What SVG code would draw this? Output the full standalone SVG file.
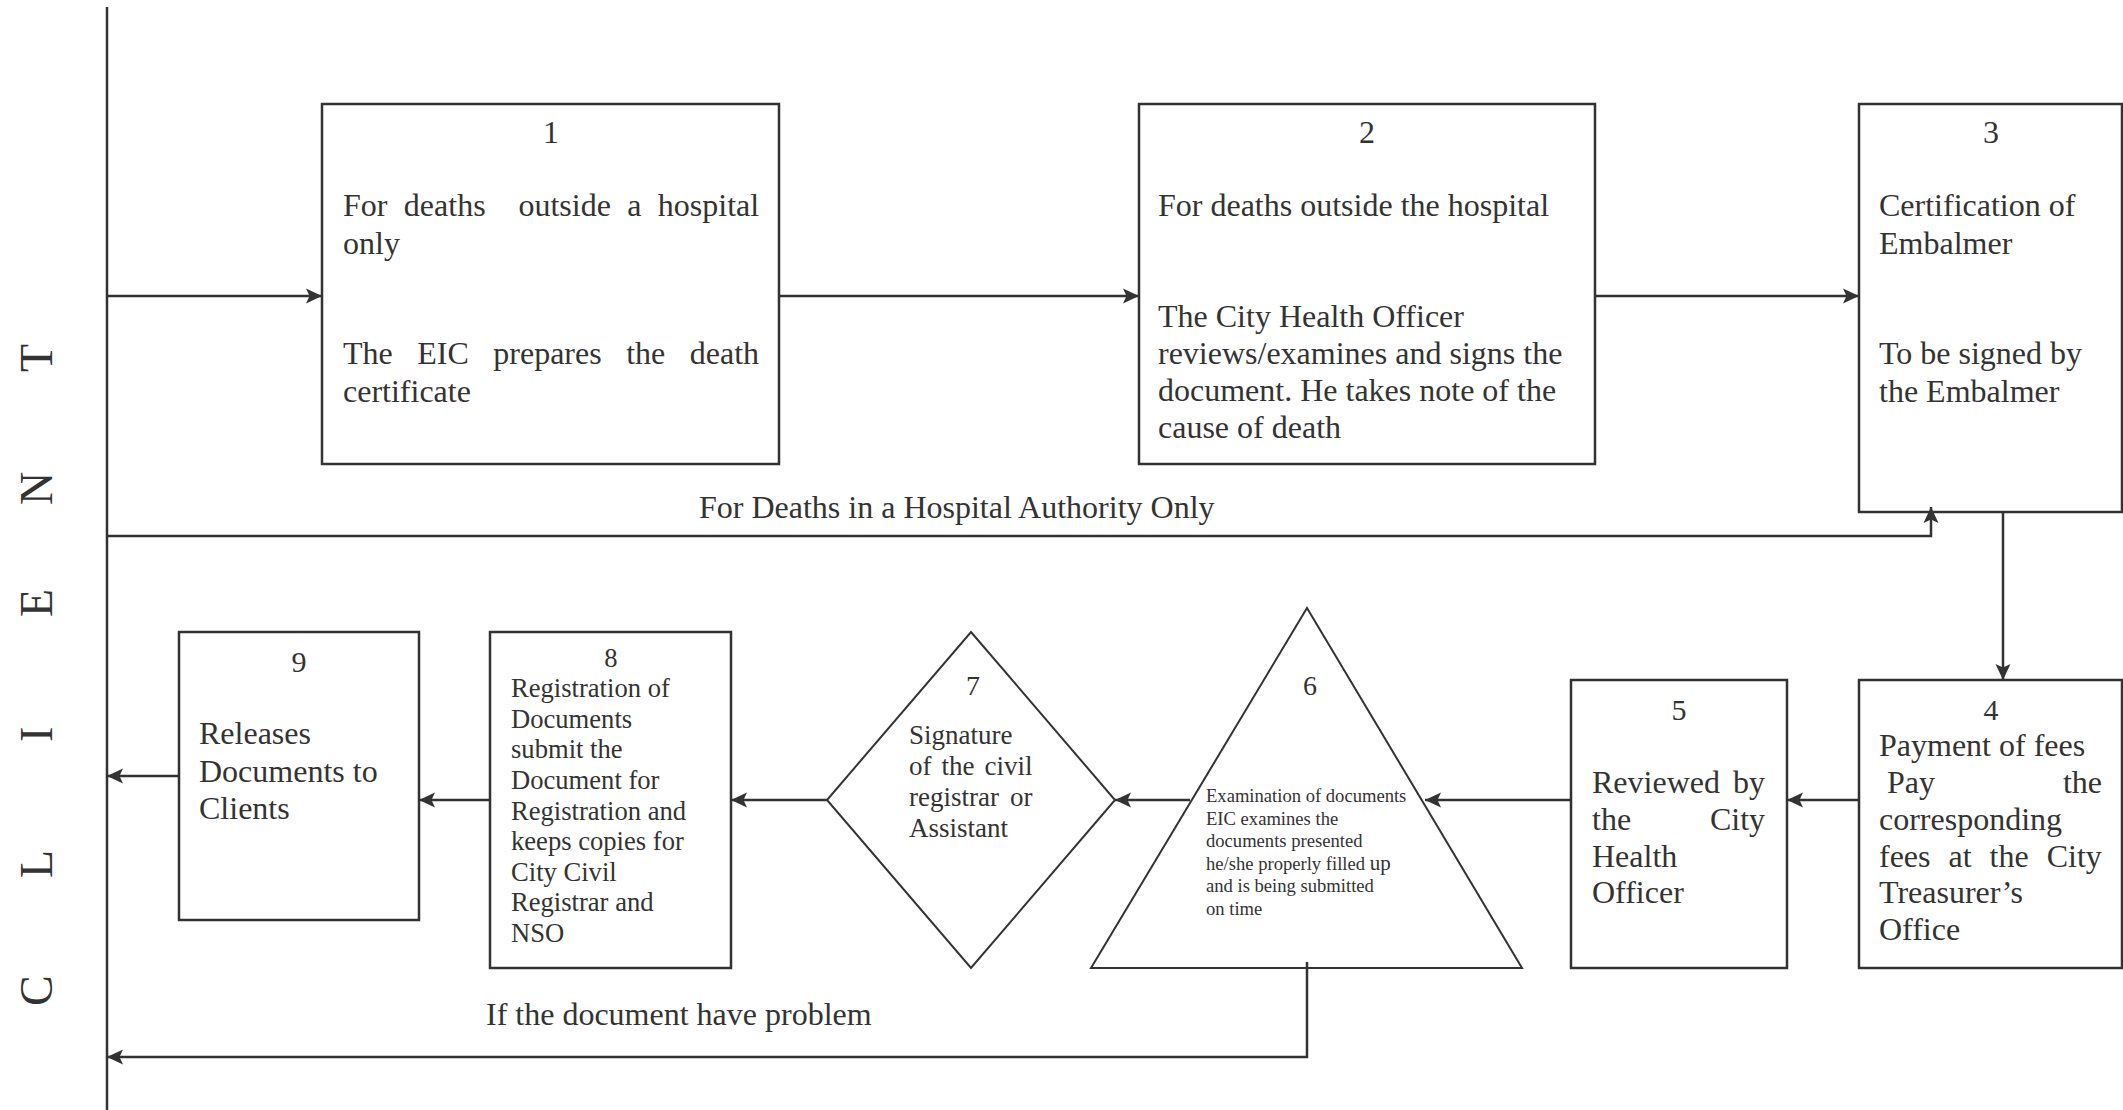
<svg xmlns="http://www.w3.org/2000/svg" width="2123" height="1110" viewBox="0 0 2123 1110">
<style>
text{font-family:"Liberation Serif","Times New Roman",serif;fill:#333}
.f32{font-size:32px}
.f30{font-size:30px}
.f28{font-size:28px}
.f27{font-size:27px}
.f26{font-size:26.6px}
.f18{font-size:18.6px}
.mid{text-anchor:middle}
.box{fill:#fff;stroke:#333;stroke-width:2.5}
.shape{fill:#fff;stroke:#333;stroke-width:2}
.con{fill:none;stroke:#333;stroke-width:2.5}
</style>
<defs>
<marker id="ah" markerUnits="userSpaceOnUse" markerWidth="16" markerHeight="16" viewBox="0 0 16 16" refX="16" refY="8" orient="auto">
<path d="M0,0.5 L16,8 L0,15.5 L3.5,8 z" fill="#333"/>
</marker>
</defs>
<rect width="2123" height="1110" fill="#fff"/>

<g id="client">
<line x1="107" y1="7" x2="107" y2="1110" stroke="#333" stroke-width="2.5"/>
<text transform="translate(52,0) rotate(-90)" font-size="46" x="-1006 -975 -878 -850 -742 -727 -617 -588 -505 -472 -372" y="0">C L I E N T</text>
</g>

<g id="node1">
<rect class="box" x="322" y="104" width="457" height="360"/>
<text class="f32 mid" x="551" y="143">1</text>
<text class="f32" x="343" y="216" xml:space="preserve" word-spacing="8.4">For deaths  outside a hospital</text>
<text class="f32" x="343" y="254">only</text>
<text class="f32" x="343" y="364" word-spacing="16.5">The EIC prepares the death</text>
<text class="f32" x="343" y="402">certificate</text>
</g>

<g id="node2">
<rect class="box" x="1139" y="104" width="456" height="360"/>
<text class="f32 mid" x="1367" y="143">2</text>
<text class="f32" x="1158" y="216">For deaths outside the hospital</text>
<text class="f32" x="1158" y="327">The City Health Officer</text>
<text class="f32" x="1158" y="364">reviews/examines and signs the</text>
<text class="f32" x="1158" y="401">document. He takes note of the</text>
<text class="f32" x="1158" y="438">cause of death</text>
</g>

<g id="node3">
<rect class="box" x="1859" y="104" width="263" height="408"/>
<text class="f32 mid" x="1991" y="143">3</text>
<text class="f32" x="1879" y="216">Certification of</text>
<text class="f32" x="1879" y="254">Embalmer</text>
<text class="f32" x="1879" y="364">To be signed by</text>
<text class="f32" x="1879" y="402">the Embalmer</text>
</g>

<g id="node4">
<rect class="box" x="1859" y="680" width="263" height="288"/>
<text class="f30 mid" x="1991" y="720">4</text>
<text class="f32" x="1879" y="756">Payment of fees</text>
<text class="f32" x="1887" y="793" word-spacing="119.9">Pay the</text>
<text class="f32" x="1879" y="830">corresponding</text>
<text class="f32" x="1879" y="867" word-spacing="10">fees at the City</text>
<text class="f32" x="1879" y="903">Treasurer’s</text>
<text class="f32" x="1879" y="940">Office</text>
</g>

<g id="node5">
<rect class="box" x="1571" y="680" width="216" height="288"/>
<text class="f30 mid" x="1679" y="720">5</text>
<text class="f32" x="1592" y="793" word-spacing="5">Reviewed by</text>
<text class="f32" x="1592" y="830" word-spacing="70.8">the City</text>
<text class="f32" x="1592" y="867">Health</text>
<text class="f32" x="1592" y="903">Officer</text>
</g>

<g id="node6">
<polygon class="shape" points="1307,608 1522,968 1091,968"/>
<text class="f28 mid" x="1310" y="695">6</text>
<text class="f18" x="1206" y="802">Examination of documents</text>
<text class="f18" x="1206" y="824.5">EIC examines the</text>
<text class="f18" x="1206" y="847">documents presented</text>
<text class="f18" x="1206" y="869.5">he/she properly filled <tspan font-size="21">up</tspan></text>
<text class="f18" x="1206" y="892">and is being submitted</text>
<text class="f18" x="1206" y="914.5">on time</text>
</g>

<g id="node7">
<polygon class="shape" points="971,632 1115,800 971,968 827,800"/>
<text class="f28 mid" x="973" y="695">7</text>
<text class="f27" x="909" y="744">Signature</text>
<text class="f27" x="909" y="775" word-spacing="3.3">of the civil</text>
<text class="f27" x="909" y="806" word-spacing="4.4">registrar or</text>
<text class="f27" x="909" y="837">Assistant</text>
</g>

<g id="node8">
<rect class="box" x="490" y="632" width="241" height="336"/>
<text class="f26 mid" x="611" y="667">8</text>
<text class="f26" x="511" y="697">Registration of</text>
<text class="f26" x="511" y="728">Documents</text>
<text class="f26" x="511" y="758">submit the</text>
<text class="f26" x="511" y="789">Document for</text>
<text class="f26" x="511" y="820">Registration and</text>
<text class="f26" x="511" y="850">keeps copies for</text>
<text class="f26" x="511" y="881">City Civil</text>
<text class="f26" x="511" y="911">Registrar and</text>
<text class="f26" x="511" y="942">NSO</text>
</g>

<g id="node9">
<rect class="box" x="179" y="632" width="240" height="288"/>
<text class="f30 mid" x="299" y="672">9</text>
<text class="f32" x="199" y="744">Releases</text>
<text class="f32" x="199" y="782">Documents to</text>
<text class="f32" x="199" y="819">Clients</text>
</g>

<g id="connectors">
<line class="con" x1="107" y1="296" x2="322" y2="296" marker-end="url(#ah)"/>
<line class="con" x1="779" y1="296" x2="1139" y2="296" marker-end="url(#ah)"/>
<line class="con" x1="1595" y1="296" x2="1859" y2="296" marker-end="url(#ah)"/>
<polyline class="con" points="107,536 1931,536 1931,507" marker-end="url(#ah)"/>
<line class="con" x1="2003" y1="512" x2="2003" y2="680" marker-end="url(#ah)"/>
<line class="con" x1="1859" y1="800" x2="1787" y2="800" marker-end="url(#ah)"/>
<line class="con" x1="1571" y1="800" x2="1425" y2="800" marker-end="url(#ah)"/>
<line class="con" x1="1190" y1="800" x2="1115" y2="800" marker-end="url(#ah)"/>
<line class="con" x1="827" y1="800" x2="731" y2="800" marker-end="url(#ah)"/>
<line class="con" x1="490" y1="800" x2="419" y2="800" marker-end="url(#ah)"/>
<line class="con" x1="179" y1="776" x2="107" y2="776" marker-end="url(#ah)"/>
<polyline class="con" points="1307,962 1307,1057 107,1057" marker-end="url(#ah)"/>
<text class="f32" x="699" y="518">For Deaths in a Hospital Authority Only</text>
<text class="f32" x="486" y="1025">If the document have problem</text>
</g>
</svg>
